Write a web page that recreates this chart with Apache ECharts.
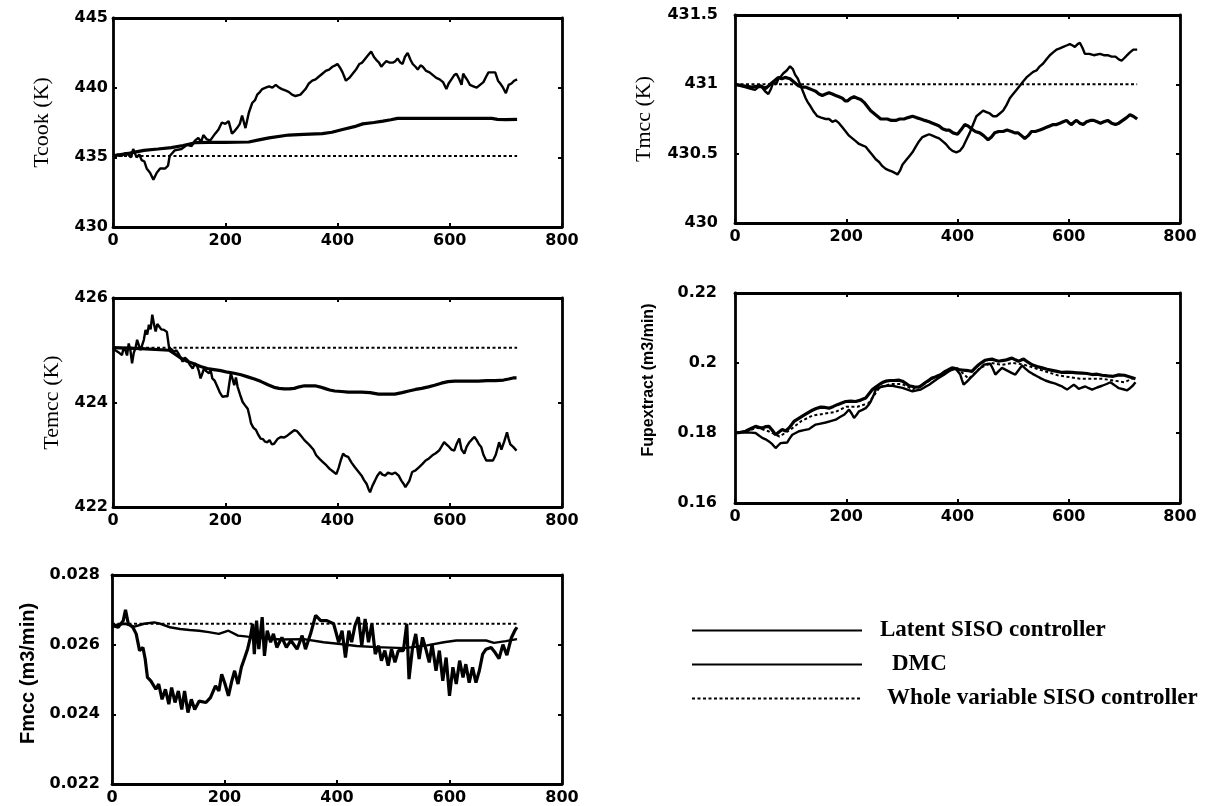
<!DOCTYPE html>
<html>
<head>
<meta charset="utf-8">
<script src="https://cdn.jsdelivr.net/npm/echarts@6/dist/echarts.min.js"></script>
<style>
  html, body { margin: 0; padding: 0; background: #ffffff; }
  #chart { width: 1214px; height: 806px; }
</style>
</head>
<body>
<div id="chart"></div>
<script>
// ---- Axis ticks ----
const timeTicks = [0, 200, 400, 600, 800];
const tcookTicks = [430, 435, 440, 445];
const tmccTicks = [430, 430.5, 431, 431.5];
const temccTicks = [422, 424, 426];
const fupTicks = [0.16, 0.18, 0.2, 0.22];
const fmccTicks = [0.022, 0.024, 0.026, 0.028];

// ---- Series names ----
const seriesNames = ['Latent SISO controller', 'DMC', 'Whole variable SISO controller'];

// ---- Tcook (K) ----
const tcookLatent = [[0,435.0],[8,435.2],[15,435.1],[22,435.3],[27,435.2],[32,435.0],[36,435.6],[42,435.0],[47,435.2],[51,434.8],[56,434.7],[60,434.2],[66,433.9],[72,433.4],[78,433.9],[84,434.2],[93,434.2],[98,434.4],[101,435.1],[110,435.5],[122,435.6],[132,435.9],[140,435.8],[146,436.2],[152,436.4],[157,436.1],[161,436.6],[167,436.3],[173,436.2],[182,436.7],[188,437.0],[194,437.5],[200,437.4],[206,437.6],[212,436.7],[217,436.9],[221,437.1],[226,437.4],[230,438.0],[236,437.1],[242,438.2],[248,438.9],[253,439.1],[257,439.5],[262,439.7],[266,439.9],[272,440.0],[278,440.1],[284,440.0],[290,440.2],[296,440.0],[301,439.9],[307,439.8],[313,439.7],[319,439.5],[325,439.4],[334,439.5],[343,439.9],[349,440.3],[355,440.5],[361,440.6],[367,440.8],[373,441.0],[379,441.2],[385,441.3],[391,441.5],[396,441.6],[400,441.7],[405,441.4],[409,441.1],[415,440.5],[421,440.7],[427,441.0],[433,441.3],[439,441.7],[444,441.8],[448,442.0],[454,442.3],[460,442.6],[465,442.2],[469,442.0],[474,441.8],[478,441.5],[482,441.7],[487,441.9],[493,441.8],[499,441.8],[503,441.9],[507,442.1],[512,441.8],[516,441.7],[520,442.2],[525,442.5],[530,442.0],[534,441.7],[539,441.5],[543,441.3],[548,441.6],[552,441.5],[558,441.2],[564,441.1],[570,440.9],[576,440.7],[582,440.6],[588,440.4],[594,439.9],[598,440.3],[603,440.6],[608,440.9],[612,441.0],[617,440.6],[621,440.2],[624,441.0],[627,440.8],[632,440.5],[636,440.2],[642,440.1],[648,440.0],[654,440.2],[660,440.4],[665,440.8],[669,441.1],[675,441.1],[681,441.1],[686,440.5],[690,440.3],[695,440.0],[700,439.6],[705,440.2],[710,440.3],[715,440.5],[720,440.6]];
const tcookDmc = [[0,435.1],[30,435.3],[55,435.5],[80,435.6],[104,435.7],[125,435.85],[146,436.05],[170,436.07],[200,436.08],[242,436.1],[260,436.25],[278,436.4],[313,436.6],[340,436.65],[373,436.7],[390,436.8],[409,437.0],[430,437.2],[445,437.4],[465,437.5],[481,437.6],[495,437.7],[507,437.8],[560,437.8],[620,437.8],[675,437.8],[685,437.72],[700,437.7],[720,437.72]];
const tcookWhole = [[0,435.1],[720,435.1]];

// ---- Tmcc (K) ----
const tmccLatent = [[0,431.0],[9,430.99],[18,430.98],[27,430.97],[36,430.96],[42,430.98],[48,430.98],[54,430.95],[60,430.93],[65,430.97],[69,431.02],[74,431.0],[78,431.04],[83,431.06],[87,431.08],[93,431.1],[99,431.13],[104,431.11],[108,431.07],[113,431.04],[117,431.0],[122,430.95],[127,430.9],[131,430.87],[136,430.84],[142,430.8],[148,430.77],[155,430.76],[163,430.75],[169,430.75],[175,430.73],[181,430.74],[187,430.72],[193,430.69],[199,430.66],[205,430.63],[211,430.61],[217,430.59],[223,430.57],[229,430.56],[235,430.55],[241,430.52],[247,430.49],[253,430.46],[259,430.44],[265,430.41],[271,430.39],[277,430.38],[283,430.37],[288,430.36],[292,430.35],[297,430.38],[301,430.42],[307,430.45],[313,430.48],[319,430.51],[325,430.55],[331,430.59],[337,430.62],[343,430.63],[349,430.64],[355,430.63],[361,430.62],[367,430.61],[373,430.59],[379,430.57],[385,430.54],[391,430.52],[398,430.51],[404,430.52],[410,430.55],[416,430.6],[422,430.65],[428,430.71],[434,430.77],[440,430.79],[446,430.81],[452,430.8],[458,430.79],[464,430.77],[470,430.77],[476,430.79],[482,430.81],[488,430.85],[494,430.9],[500,430.93],[506,430.96],[512,430.99],[518,431.02],[524,431.05],[530,431.07],[536,431.09],[542,431.1],[548,431.13],[554,431.15],[560,431.18],[566,431.21],[572,431.23],[578,431.25],[584,431.26],[590,431.27],[596,431.28],[602,431.29],[607,431.28],[611,431.27],[616,431.29],[620,431.3],[625,431.26],[629,431.22],[637,431.22],[645,431.21],[656,431.22],[663,431.21],[670,431.21],[677,431.2],[684,431.2],[690,431.18],[695,431.17],[700,431.19],[705,431.21],[710,431.23],[716,431.25],[723,431.25]];
const tmccDmc = [[0,431.0],[15,430.99],[30,430.98],[45,430.99],[55,430.97],[66,431.01],[72,431.03],[78,431.05],[84,431.04],[90,431.05],[99,431.04],[108,431.01],[114,430.99],[120,430.98],[127,430.98],[133,430.97],[139,430.96],[145,430.95],[151,430.93],[157,430.92],[163,430.93],[169,430.94],[175,430.93],[181,430.92],[187,430.91],[193,430.9],[198,430.88],[202,430.88],[208,430.9],[214,430.91],[220,430.9],[226,430.89],[232,430.87],[238,430.84],[244,430.81],[250,430.79],[256,430.77],[262,430.75],[268,430.75],[274,430.75],[281,430.74],[289,430.74],[296,430.75],[304,430.75],[311,430.76],[319,430.77],[326,430.76],[334,430.75],[341,430.74],[349,430.73],[355,430.72],[361,430.71],[367,430.7],[373,430.68],[379,430.67],[385,430.67],[392,430.65],[400,430.64],[406,430.67],[413,430.71],[419,430.7],[425,430.68],[432,430.66],[440,430.65],[447,430.63],[455,430.6],[461,430.62],[467,430.65],[474,430.66],[482,430.66],[489,430.67],[497,430.66],[503,430.65],[509,430.65],[515,430.63],[521,430.61],[527,430.63],[533,430.66],[540,430.66],[548,430.67],[554,430.68],[560,430.69],[566,430.7],[572,430.71],[578,430.71],[584,430.72],[590,430.73],[596,430.74],[601,430.72],[605,430.71],[610,430.73],[614,430.74],[620,430.72],[626,430.71],[632,430.73],[639,430.74],[645,430.74],[651,430.73],[657,430.72],[663,430.73],[670,430.74],[677,430.72],[684,430.71],[690,430.72],[697,430.74],[704,430.76],[710,430.78],[716,430.77],[723,430.75]];
const tmccWhole = [[0,431.0],[723,431.0]];

// ---- Temcc (K) ----
const temccLatent = [[0,425.05],[4,425.0],[7,425.02],[11,424.95],[16,424.91],[19,425.05],[22,425.0],[25,424.9],[28,425.13],[31,425.0],[34,424.75],[37,424.95],[40,425.04],[43,425.2],[46,425.17],[49,425.0],[52,424.97],[55,425.2],[58,425.39],[61,425.3],[64,425.49],[67,425.4],[70,425.68],[73,425.5],[76,425.36],[79,425.5],[82,425.46],[86,425.4],[91,425.39],[96,425.35],[100,425.04],[104,425.02],[109,424.97],[113,425.0],[118,424.91],[121,424.85],[124,424.78],[128,424.86],[133,424.81],[137,424.72],[142,424.65],[146,424.75],[150,424.69],[153,424.6],[156,424.46],[159,424.55],[162,424.65],[166,424.6],[171,424.56],[174,424.62],[177,424.46],[181,424.42],[186,424.3],[190,424.2],[195,424.11],[200,424.12],[204,424.12],[207,424.35],[210,424.56],[213,424.45],[216,424.33],[219,424.48],[222,424.3],[225,424.3],[228,424.1],[231,424.01],[235,423.95],[240,423.88],[243,423.75],[246,423.6],[250,423.52],[255,423.47],[259,423.38],[263,423.31],[267,423.3],[271,423.25],[275,423.24],[279,423.28],[283,423.2],[287,423.21],[293,423.3],[299,423.34],[305,423.33],[311,423.37],[317,423.42],[323,423.47],[328,423.45],[332,423.4],[336,423.35],[341,423.28],[347,423.22],[353,423.15],[357,423.1],[362,422.99],[368,422.92],[374,422.86],[380,422.8],[386,422.73],[392,422.68],[398,422.63],[402,422.75],[406,422.9],[410,423.02],[414,422.98],[419,422.96],[425,422.85],[431,422.76],[437,422.68],[443,422.6],[447,422.52],[452,422.44],[455,422.35],[458,422.28],[462,422.4],[467,422.51],[471,422.6],[476,422.67],[480,422.62],[485,422.6],[490,422.66],[497,422.63],[503,422.66],[509,422.6],[514,422.5],[518,422.44],[521,422.38],[524,422.35],[528,422.5],[533,422.67],[539,422.7],[545,422.76],[551,422.82],[557,422.89],[563,422.93],[569,422.99],[575,423.03],[581,423.08],[585,423.15],[590,423.24],[594,423.2],[599,423.15],[603,423.1],[608,423.08],[612,423.2],[617,423.31],[621,423.1],[626,423.02],[630,423.15],[635,423.24],[640,423.3],[644,423.34],[648,423.28],[652,423.2],[656,423.15],[660,423.0],[665,422.89],[671,422.89],[677,422.89],[682,423.0],[688,423.24],[692,423.1],[697,423.25],[702,423.43],[705,423.3],[708,423.2],[713,423.15],[719,423.08]];
const temccDmc = [[0,425.05],[50,425.03],[100,425.0],[110,424.93],[121,424.85],[132,424.79],[144,424.74],[156,424.69],[168,424.65],[180,424.63],[192,424.61],[204,424.58],[216,424.56],[228,424.53],[240,424.49],[252,424.45],[264,424.4],[276,424.34],[287,424.29],[296,424.27],[305,424.26],[314,424.26],[323,424.27],[332,424.3],[341,424.32],[350,424.32],[360,424.32],[368,424.3],[377,424.27],[386,424.24],[395,424.22],[407,424.21],[419,424.2],[431,424.2],[443,424.2],[458,424.19],[473,424.16],[488,424.16],[502,424.16],[515,424.19],[527,424.22],[539,424.25],[550,424.27],[562,424.3],[573,424.33],[585,424.37],[597,424.4],[609,424.41],[621,424.41],[636,424.41],[651,424.41],[666,424.42],[681,424.42],[696,424.43],[705,424.45],[713,424.47],[719,424.47]];
const temccWhole = [[0,425.05],[720,425.05]];

// ---- Fupextract (m3/min) ----
const fupLatent = [[0,0.18],[10,0.1801],[19,0.1802],[28,0.1801],[37,0.18],[43,0.1793],[49,0.1786],[55,0.1782],[61,0.1776],[67,0.1768],[73,0.1757],[78,0.1765],[82,0.1771],[88,0.1772],[94,0.1773],[98,0.1784],[103,0.1795],[109,0.18],[115,0.1805],[124,0.1808],[133,0.1811],[139,0.1818],[145,0.1824],[154,0.1827],[163,0.183],[172,0.1834],[181,0.1838],[188,0.1845],[196,0.1852],[201,0.186],[205,0.1867],[210,0.1855],[214,0.1843],[219,0.1853],[223,0.1862],[229,0.1866],[235,0.1871],[240,0.188],[244,0.189],[249,0.1907],[253,0.1924],[259,0.1929],[265,0.1933],[274,0.1935],[283,0.1935],[292,0.1932],[301,0.1929],[310,0.1924],[319,0.1919],[327,0.1922],[334,0.1924],[341,0.1931],[349,0.1938],[357,0.1947],[366,0.1957],[375,0.1966],[384,0.1976],[390,0.1981],[396,0.1986],[400,0.1977],[405,0.1967],[408,0.1952],[411,0.1938],[417,0.1947],[423,0.1957],[429,0.1966],[435,0.1976],[441,0.1985],[447,0.1995],[453,0.1997],[459,0.1998],[464,0.1982],[468,0.1967],[474,0.1977],[480,0.1986],[486,0.1981],[492,0.1976],[498,0.1971],[504,0.1967],[510,0.198],[516,0.1993],[522,0.1984],[528,0.1976],[535,0.1969],[543,0.1962],[550,0.1956],[558,0.195],[567,0.1945],[576,0.1941],[582,0.1937],[588,0.1933],[593,0.1928],[597,0.1924],[603,0.1931],[609,0.1938],[614,0.1932],[618,0.1926],[624,0.193],[630,0.1933],[636,0.1928],[642,0.1924],[651,0.193],[660,0.1935],[668,0.194],[675,0.1945],[683,0.1936],[690,0.1928],[698,0.1925],[705,0.1922],[710,0.1928],[715,0.1935],[720,0.1945]];
const fupDmc = [[0,0.18],[10,0.1802],[19,0.1805],[28,0.1812],[37,0.1819],[43,0.1816],[49,0.1814],[55,0.1818],[61,0.1819],[67,0.1808],[73,0.1795],[79,0.1803],[85,0.181],[91,0.1806],[97,0.1814],[106,0.1833],[114,0.1841],[121,0.1848],[130,0.1857],[139,0.1865],[146,0.187],[154,0.1874],[162,0.1873],[169,0.1871],[177,0.1876],[184,0.1881],[192,0.1886],[199,0.189],[208,0.1891],[217,0.189],[226,0.1894],[235,0.19],[241,0.1912],[247,0.1924],[253,0.1931],[259,0.1938],[265,0.1944],[271,0.1948],[279,0.195],[286,0.195],[294,0.1951],[301,0.1948],[307,0.1942],[313,0.1935],[322,0.1932],[331,0.1931],[337,0.1938],[343,0.1945],[349,0.1951],[354,0.1957],[360,0.196],[366,0.1964],[372,0.1969],[378,0.1976],[384,0.1981],[390,0.1986],[396,0.1984],[402,0.1981],[408,0.198],[414,0.1979],[420,0.1978],[426,0.1976],[432,0.1986],[438,0.1995],[444,0.2002],[450,0.2008],[456,0.201],[462,0.2011],[468,0.2008],[474,0.2005],[480,0.2007],[486,0.2008],[492,0.2011],[498,0.2014],[504,0.2009],[510,0.2005],[515,0.2009],[519,0.2011],[526,0.2003],[534,0.1995],[543,0.199],[552,0.1986],[561,0.1982],[570,0.1979],[579,0.1976],[588,0.1973],[597,0.1974],[606,0.1973],[615,0.1972],[624,0.1971],[633,0.197],[642,0.1967],[651,0.1968],[660,0.1965],[670,0.1963],[680,0.1962],[690,0.1966],[700,0.1965],[710,0.196],[720,0.1955]];
const fupWhole = [[0,0.18],[20,0.1805],[40,0.1815],[60,0.1805],[80,0.179],[100,0.181],[120,0.1835],[140,0.185],[160,0.1855],[180,0.186],[200,0.1875],[220,0.1875],[240,0.1885],[260,0.193],[280,0.194],[300,0.194],[320,0.1925],[340,0.194],[360,0.196],[380,0.1975],[400,0.1985],[420,0.1955],[440,0.1985],[460,0.2],[480,0.1995],[500,0.2],[520,0.1995],[540,0.1985],[560,0.1975],[580,0.1965],[600,0.196],[620,0.1955],[640,0.1955],[660,0.1955],[680,0.195],[700,0.1945],[720,0.196]];

// ---- Fmcc (m3/min) ----
const fmccLatent = [[0,0.02655],[23,0.0266],[40,0.02652],[57,0.0266],[75,0.02664],[86,0.0266],[103,0.0265],[121,0.02645],[138,0.02642],[155,0.0264],[172,0.02636],[190,0.02631],[207,0.0264],[224,0.02626],[241,0.02623],[260,0.0262],[300,0.02615],[341,0.02616],[376,0.02607],[406,0.02602],[435,0.02596],[470,0.02593],[520,0.0259],[560,0.02598],[590,0.02607],[612,0.02612],[647,0.02612],[665,0.02612],[679,0.02605],[700,0.0261],[720,0.02616]];
const fmccDmc = [[0,0.02655],[11,0.0265],[20,0.02669],[24,0.027],[29,0.0266],[37,0.0265],[43,0.02631],[49,0.02583],[55,0.02592],[59,0.02559],[63,0.02506],[69,0.02496],[78,0.02472],[83,0.02487],[89,0.02443],[95,0.02472],[101,0.02429],[106,0.02477],[112,0.02434],[118,0.02467],[124,0.02414],[129,0.02467],[135,0.02405],[141,0.02443],[147,0.02414],[155,0.02438],[167,0.02434],[175,0.02448],[184,0.02482],[190,0.02467],[195,0.02515],[201,0.02487],[207,0.02453],[213,0.02496],[218,0.02525],[224,0.02487],[230,0.02535],[236,0.02563],[241,0.02587],[246,0.02621],[250,0.0266],[253,0.02573],[257,0.02669],[261,0.02587],[267,0.02679],[271,0.02568],[276,0.0264],[282,0.02607],[287,0.02631],[293,0.02592],[302,0.02621],[310,0.02592],[318,0.02612],[329,0.02587],[338,0.02626],[344,0.02587],[353,0.02631],[362,0.02684],[371,0.02669],[382,0.02669],[394,0.0266],[403,0.02607],[409,0.0264],[415,0.02563],[421,0.0264],[426,0.02607],[432,0.02655],[438,0.02679],[444,0.02597],[450,0.02674],[456,0.02607],[462,0.0266],[468,0.02573],[474,0.02597],[479,0.02554],[485,0.02583],[491,0.0254],[497,0.02587],[503,0.02549],[509,0.02583],[518,0.02583],[524,0.0266],[528,0.02501],[534,0.02587],[540,0.02631],[546,0.02559],[552,0.02621],[558,0.02587],[564,0.02549],[569,0.02602],[576,0.02525],[582,0.02583],[588,0.02496],[594,0.02563],[600,0.02453],[606,0.02535],[612,0.02487],[618,0.02554],[624,0.02506],[629,0.02544],[635,0.02491],[641,0.02535],[647,0.02491],[653,0.02525],[659,0.02573],[665,0.02587],[674,0.02592],[680,0.0258],[688,0.0256],[695,0.026],[702,0.0257],[710,0.0262],[716,0.0264],[720,0.0265]];
const fmccWhole = [[0,0.0266],[720,0.0266]];

// ---- Styling ----
const TICK_FONT = "'DejaVu Sans', Verdana, sans-serif";
const SERIF_FONT = "'Liberation Serif', 'Times New Roman', serif";
const SANS_FONT = "'Liberation Sans', Arial, sans-serif";
const INK = '#000000';
const lineStyles = [
  { color: INK, width: 2.4, type: 'solid' },
  { color: INK, width: 3.2, type: 'solid' },
  { color: INK, width: 2, type: [3, 2.5] }
];

const panels = [
  { box: { left: 113, top: 18, width: 449, height: 209 }, ticks: tcookTicks, name: 'Tcook (K)',
    nameFont: { fontFamily: SERIF_FONT, fontSize: 22, fontWeight: 'normal' }, nameGap: 60, labelMargin: 5,
    data: [tcookLatent, tcookDmc, tcookWhole] },
  { box: { left: 735, top: 15, width: 445, height: 208 }, ticks: tmccTicks, name: 'Tmcc (K)',
    nameFont: { fontFamily: SERIF_FONT, fontSize: 22, fontWeight: 'normal' }, nameGap: 80, labelMargin: 17,
    data: [tmccLatent, tmccDmc, tmccWhole] },
  { box: { left: 113, top: 298, width: 449, height: 209 }, ticks: temccTicks, name: 'Temcc (K)',
    nameFont: { fontFamily: SERIF_FONT, fontSize: 22, fontWeight: 'normal' }, nameGap: 50, labelMargin: 5,
    data: [temccLatent, temccDmc, temccWhole] },
  { box: { left: 735, top: 293, width: 445, height: 210 }, ticks: fupTicks, name: 'Fupextract (m3/min)',
    nameFont: { fontFamily: SANS_FONT, fontSize: 16, fontWeight: 'bold', padding: [0, 0, 0, 36] }, nameGap: 78, labelMargin: 18,
    data: [fupLatent, fupDmc, fupWhole] },
  { box: { left: 112, top: 575, width: 450, height: 210 }, ticks: fmccTicks, name: 'Fmcc (m3/min)',
    nameFont: { fontFamily: SANS_FONT, fontSize: 20, fontWeight: 'bold', padding: [0, 0, 0, 12] }, nameGap: 74, labelMargin: 12,
    data: [fmccLatent, fmccDmc, fmccWhole] }
];

const grid = [], xAxis = [], yAxis = [], series = [];
const frameLine = { show: true, onZero: false, lineStyle: { color: INK, width: 2.8 } };
const tickMark = { show: true, inside: true, length: 4, lineStyle: { color: INK, width: 2 } };
const tickLabel = { color: INK, fontFamily: TICK_FONT, fontWeight: 'bold', fontSize: 16 };

panels.forEach((p, i) => {
  grid.push(Object.assign({}, p.box));
  const xMin = timeTicks[0], xMax = timeTicks[timeTicks.length - 1];
  const xStep = timeTicks[1] - timeTicks[0];
  const yMin = p.ticks[0], yMax = p.ticks[p.ticks.length - 1];
  const yStep = +(p.ticks[1] - p.ticks[0]).toPrecision(6);

  // bottom (labelled) and top (frame) time axes
  xAxis.push({ type: 'value', gridIndex: i, min: xMin, max: xMax, interval: xStep, position: 'bottom',
    axisLine: frameLine, axisTick: tickMark, splitLine: { show: false },
    axisLabel: Object.assign({ margin: 6 }, tickLabel) });
  xAxis.push({ type: 'value', gridIndex: i, min: xMin, max: xMax, interval: xStep, position: 'top',
    axisLine: frameLine, axisTick: tickMark, splitLine: { show: false }, axisLabel: { show: false } });

  // left (labelled) and right (frame) value axes
  yAxis.push({ type: 'value', gridIndex: i, min: yMin, max: yMax, interval: yStep, position: 'left',
    name: p.name, nameLocation: 'middle', nameGap: p.nameGap,
    nameTextStyle: Object.assign({ color: INK }, p.nameFont),
    axisLine: frameLine, axisTick: tickMark, splitLine: { show: false },
    axisLabel: Object.assign({ margin: p.labelMargin }, tickLabel) });
  yAxis.push({ type: 'value', gridIndex: i, min: yMin, max: yMax, interval: yStep, position: 'right',
    axisLine: frameLine, axisTick: tickMark, splitLine: { show: false }, axisLabel: { show: false } });

  p.data.forEach((d, k) => {
    series.push({
      type: 'line', name: seriesNames[k], data: d,
      xAxisIndex: 2 * i, yAxisIndex: 2 * i,
      symbol: 'none', showSymbol: false, smooth: false,
      color: INK, itemStyle: { color: INK },
      lineStyle: lineStyles[k], z: 3 - k, silent: true
    });
  });
});

const chart = echarts.init(document.getElementById('chart'), null, { renderer: 'canvas' });
chart.setOption({
  backgroundColor: '#ffffff',
  animation: false,
  grid, xAxis, yAxis, series,
  legend: {
    orient: 'vertical', left: 686, top: 614,
    itemWidth: 170, itemHeight: 20, itemGap: 11,
    selectedMode: false,
    itemStyle: { opacity: 0 },
    textStyle: { color: INK, fontFamily: SERIF_FONT, fontWeight: 'bold', fontSize: 23 },
    data: [
      { name: seriesNames[0], textStyle: { padding: [0, 0, 0, 13] } },
      { name: seriesNames[1], textStyle: { padding: [0, 0, 0, 25] } },
      { name: seriesNames[2], textStyle: { padding: [0, 0, 0, 20] } }
    ]
  }
});
</script>
</body>
</html>
